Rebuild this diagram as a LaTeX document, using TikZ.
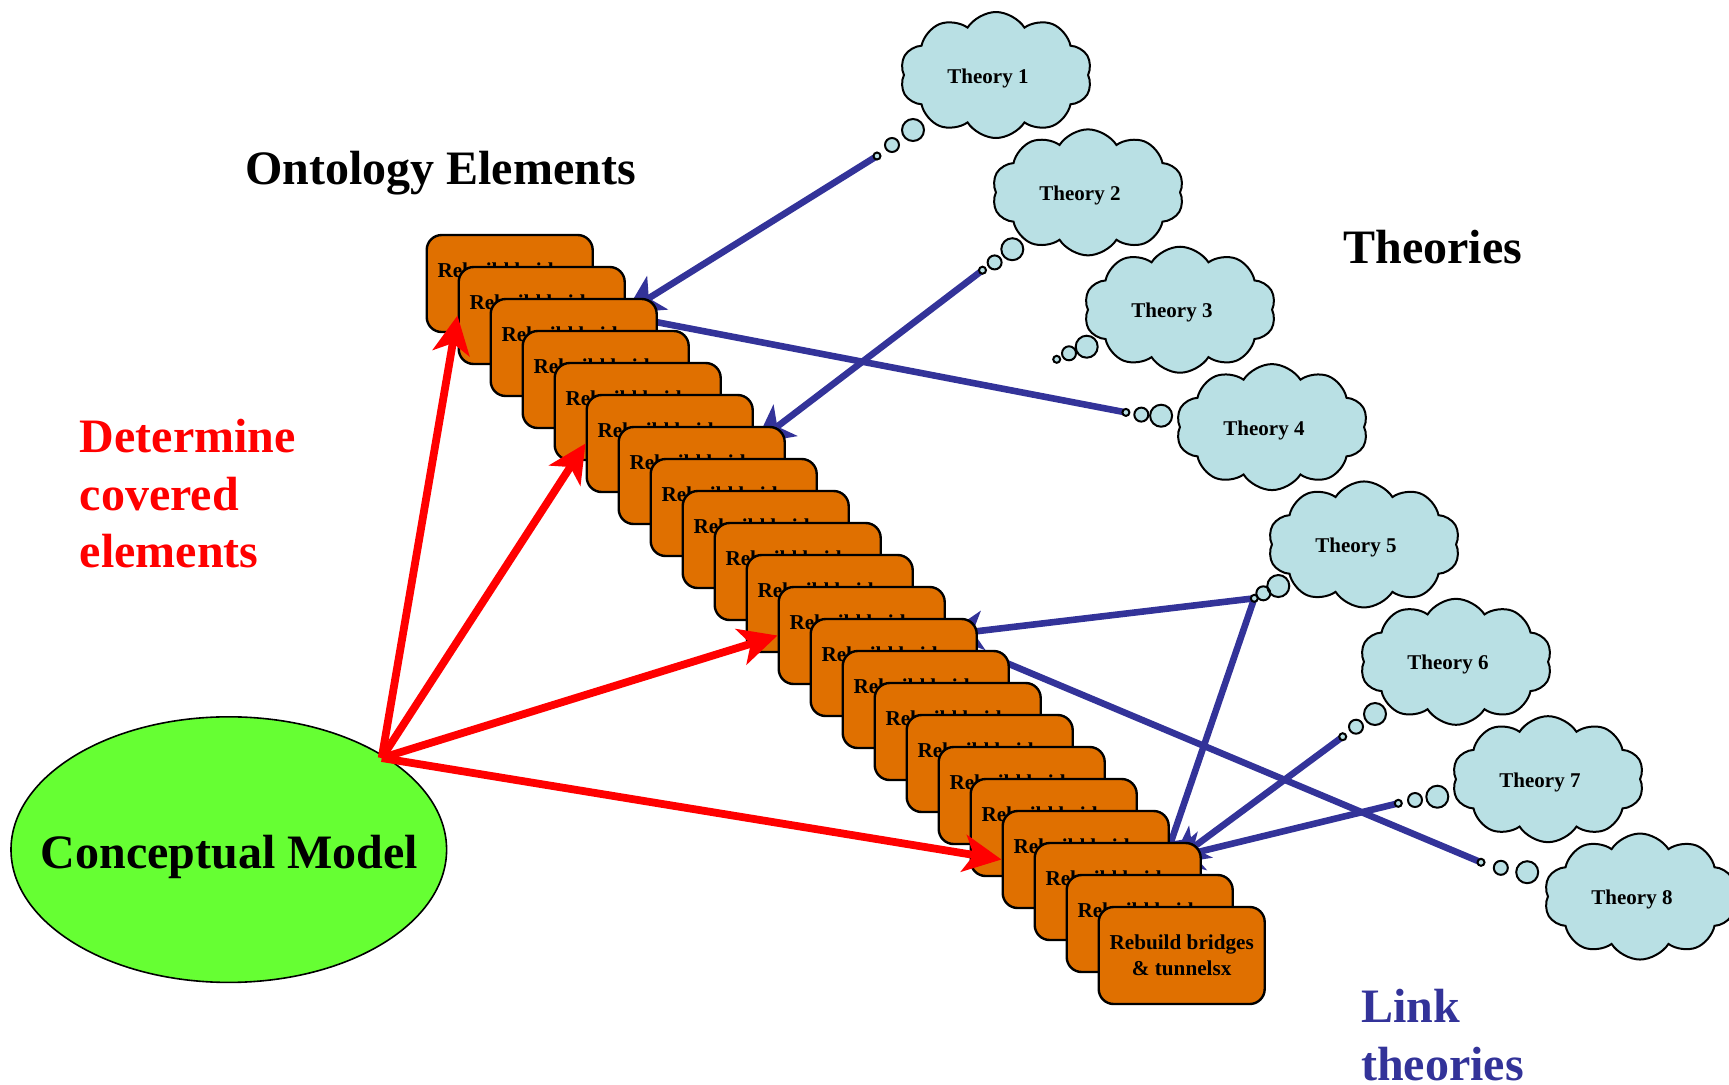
\documentclass[tikz,border=0pt]{standalone}
\usepackage{fontspec}
\setmainfont{Liberation Serif}
\usetikzlibrary{shapes.geometric,shapes.symbols,arrows.meta}
\pgfdeclarelayer{links}
\pgfsetlayers{links,main}

\definecolor{cardorange}{RGB}{224,112,0}
\definecolor{cloudfill}{RGB}{185,224,228}
\definecolor{modelgreen}{RGB}{102,255,51}
\definecolor{linkblue}{RGB}{51,51,153}
\definecolor{coverred}{RGB}{255,0,0}

\tikzset{
  card/.style={draw=black, line width=1.2pt, fill=cardorange, rounded corners=7.5pt,
    minimum width=83pt, minimum height=48.5pt, inner sep=0pt, align=center,
    font=\fontsize{10.6}{13}\selectfont\bfseries},
  puff/.style={cloud, cloud puffs=10, cloud puff arc=115, cloud ignores aspect,
    minimum width=96pt, minimum height=63pt, inner sep=0pt},
  puffbody/.style={puff, fill=cloudfill},
  puffline/.style={puff, draw=black, line width=1pt},
  bubble/.style={circle, inner sep=0pt, fill=cloudfill},
  bubbleline/.style={circle, inner sep=0pt, draw=black, line width=1pt},
  theorytext/.style={font=\fontsize{10.5}{12}\selectfont\bfseries, inner sep=0pt},
  heading/.style={font=\fontsize{24}{28.65}\selectfont\bfseries, inner sep=0pt, align=left},
  cover/.style={draw=coverred, line width=3.9pt, -{Stealth[length=19pt,width=18.5pt,inset=5pt]}},
  link/.style={draw=linkblue, line width=3.3pt},
  linkarrow/.style={link, -{Stealth[length=19pt,width=19.5pt,inset=5pt]}},
}

\begin{document}
\begin{tikzpicture}[x=0.5pt,y=-0.5pt]
\useasboundingbox (0,0) rectangle (1729,1084);

% theory clouds with their thought bubbles
\foreach \n/\bx/\by/\mx/\my/\sx/\sy in {
  1/913/130/892/145/877/156,
  2/1012.3/249.2/994.6/262.4/982.5/270.2,
  3/1086.7/346.7/1069/353.3/1056.7/359.3,
  4/1161.1/415.7/1141.3/414.6/1125.9/412.4,
  5/1278.3/586/1263.3/593.3/1254.3/598.3,
  6/1375/714/1356/726.7/1342.7/736.7,
  7/1437.3/796.7/1415/800/1398.3/803.3,
  8/1527.2/872.2/1500.8/867.8/1481/862.3}{
  \pgfmathsetmacro\tx{988+92*(\n-1)}
  \pgfmathsetmacro\ty{78+117.36*(\n-1)}
  \node[puffbody] (t\n) at (\tx+8,\ty-3) {};
  \node[bubble, minimum size=11pt] (b\n) at (\bx,\by) {};
  \node[bubble, minimum size=7pt] (m\n) at (\mx,\my) {};
  \node[puffline] (to\n) at (t\n.center) {};
  \node[bubbleline, minimum size=11pt] (bo\n) at (b\n.center) {};
  \node[bubbleline, minimum size=7pt] (mo\n) at (m\n.center) {};
  \node[bubble, draw=black, line width=1pt, minimum size=3.5pt] (s\n) at (\sx,\sy) {};
  \node[theorytext] (l\n) at (\tx,\ty) {Theory \n};
}

% stack of ontology element cards
\foreach \k in {0,...,21}
  \node[card] (c\k) at (509.7+32*\k, 283.5+32*\k) {Rebuild bridges\\\& tunnelsx};

% links from theories, running behind the cards
\begin{pgfonlayer}{links}
  \coordinate (e1) at (625,313);
  \coordinate (e2) at (755,443.5);
  \coordinate (e4) at (630,317);
  \coordinate (e5a) at (945,635);
  \coordinate (e5b) at (1162,868);
  \coordinate (e6) at (1170,864.5);
  \coordinate (e7) at (1165,860);
  \coordinate (e8) at (990,656);
  \draw[linkarrow] (s1.center) -- (e1);
  \draw[linkarrow] (s2.center) -- (e2);
  \draw[link] (s4.center) -- (e4);
  \draw[linkarrow] (s5.center) -- (e5a);
  \draw[linkarrow] (s5.center) -- (e5b);
  \draw[linkarrow] (s6.center) -- (e6);
  \draw[linkarrow] (s7.center) -- (e7);
  \draw[link] (s8.center) -- (e8);
\end{pgfonlayer}

% conceptual model
\node[ellipse, draw=black, line width=0.8pt, fill=modelgreen, minimum width=217.8pt,
  minimum height=132.8pt, inner sep=0pt] (cm) at (228.8,849.6) {};
\node[font=\fontsize{24}{28}\selectfont\bfseries, inner sep=0pt, anchor=base]
  (cmt) at (229.4,868) {Conceptual Model};

% coverage arrows
\coordinate (o) at (381.7,758);
\foreach \k in {1,5,11,18}
  \draw[cover] (o) -- (c\k.west);

% headings
\node[heading, anchor=base west] (oe) at (244.8,184.7) {Ontology Elements};
\node[heading, anchor=base west] (th) at (1343,263) {Theories};
\node[heading, text=coverred, anchor=north west] (dc) at (79.4,419) {Determine\\covered\\elements};
\node[heading, text=linkblue, anchor=north west] (lt) at (1360.7,989) {Link\\theories};
\end{tikzpicture}
\end{document}
